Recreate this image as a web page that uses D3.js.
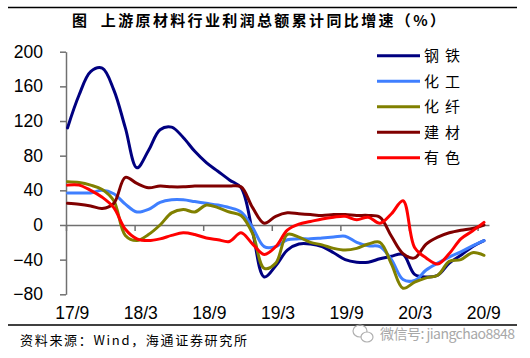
<!DOCTYPE html>
<html><head><meta charset="utf-8">
<script src="https://cdn.jsdelivr.net/npm/d3@7"></script>
<style>
html,body{margin:0;padding:0;background:#fff;}
svg{display:block;}
</style></head>
<body>
<svg id="chart" width="530" height="358"></svg>
<script>
// ---- data (monthly, 17/9 .. 20/9) ----
const months = ["17/9","17/10","17/11","17/12","18/1","18/2","18/3","18/4","18/5","18/6","18/7","18/8",
  "18/9","18/10","18/11","18/12","19/1","19/2","19/3","19/4","19/5","19/6","19/7","19/8",
  "19/9","19/10","19/11","19/12","20/1","20/2","20/3","20/4","20/5","20/6","20/7","20/8","20/9"];
const tickLabels = ["17/9","18/3","18/9","19/3","19/9","20/3","20/9"];
const yTicks = [-80,-40,0,40,80,120,160,200];
const seriesNames = ["钢铁","化工","化纤","建材","有色"];
const steel    = [112,150,177,181,156,112,66,86,110,113,101,85,72,62,52,43,-8,-60,-47,-29,-22,-22,-25,-32,-40,-43,-43,-39,-36,-34,-57,-60,-58,-44,-35,-25,-18];
const chemical = [37,37,37,40,36,24,15,18,26,29,29,27,25,23,20,15,-3,-25,-25,-17,-16,-16,-15,-14,-13,-20,-24,-25,-40,-63,-64,-52,-44,-37,-31,-24,-18];
const fiber    = [50,49,46,41,28,-12,-18,-11,0,14,18,15,23,20,15,11,-10,-50,-44,-11,-14,-20,-23,-27,-29,-27,-22,-20,-45,-73,-66,-61,-58,-42,-40,-32,-35];
const building = [25,24,22,19,25,55,48,43,45,44,44,45,45,45,45,44,20,2,10,14,13,12,11,12,12,11,11,9,-13,-33,-38,-22,-14,-9,-6,-4,0];
const nonferrous = [46,46,40,32,20,-5,-16,-18,-16,-12,-9,-11,-15,-17,-19,-9,-22,-34,-25,-6,1,4,7,9,10,6,9,2,13,28,-26,-38,-45,-33,-16,-7,3];
const seriesValues = [steel, chemical, fiber, building, nonferrous];
const colors = ["#000080","#3F7FFF","#808000","#800000","#FF0000"];

const svg = d3.select("#chart");

// frame lines
svg.append("line").attr("x1",8).attr("x2",517).attr("y1",7.5).attr("y2",7.5).attr("stroke","#000").attr("stroke-width",1.3);
svg.append("line").attr("x1",8).attr("x2",517).attr("y1",325).attr("y2",325).attr("stroke","#000").attr("stroke-width",1.3);

// title
svg.append("text").attr("x",72).attr("y",26).attr("textLength",373).attr("lengthAdjust","spacing")
  .attr("font-family","'Noto Sans CJK SC', sans-serif").attr("font-weight","bold").attr("font-size",15)
  .attr("fill","#000").text("图\u00a0\u00a0上游原材料行业利润总额累计同比增速（%）");

// scales
const y = d3.scaleLinear().domain([-80,200]).range([294.3,51.7]);
const xAxisScale = d3.scaleLinear().domain([-0.5,36.5]).range([66,489]);
const xData = d3.scaleLinear().domain([0,36]).range([67.5,484]);

// y axis
const yAxis = svg.append("g").attr("transform","translate(66,0)")
  .call(d3.axisLeft(y).tickValues(yTicks).tickSize(6).tickSizeOuter(0).tickPadding(17).tickFormat(d3.format("d")));
yAxis.select(".domain").attr("stroke","#707070").attr("stroke-width",1.5);
yAxis.selectAll(".tick line").attr("stroke","#707070").attr("stroke-width",1.5);
yAxis.selectAll("text").attr("font-family","'Liberation Sans', Arial, sans-serif").attr("font-size",17.5).attr("fill","#000");

// x axis (zero line with tick marks between categories)
const tickPos = d3.range(-0.5, 36, 6);
const xAxis = svg.append("g").attr("transform",`translate(0,${y(0)})`)
  .call(d3.axisBottom(xAxisScale).tickValues(tickPos).tickSize(6).tickSizeOuter(0).tickFormat(""));
xAxis.select(".domain").attr("stroke","#707070").attr("stroke-width",1.5);
xAxis.selectAll(".tick line").attr("stroke","#707070").attr("stroke-width",1.5);

// x labels at category centres
const labelIdx = tickLabels.map(l => months.indexOf(l));
const xLab = svg.append("g").attr("transform","translate(0,307)")
  .call(d3.axisBottom(xAxisScale).tickValues(labelIdx).tickSize(0).tickPadding(0)
    .tickFormat(d => months[d]));
xLab.select(".domain").remove();
xLab.selectAll("text").attr("font-family","'Liberation Sans', Arial, sans-serif").attr("font-size",17.5).attr("fill","#000");

// lines
const line = d3.line().x((d,i)=>xData(i)).y(d=>y(d)).curve(d3.curveCatmullRom.alpha(0.5));
seriesValues.forEach((vals,k)=>{
  svg.append("path").datum(vals).attr("d",line).attr("fill","none")
    .attr("stroke",colors[k]).attr("stroke-width",3).attr("stroke-linejoin","round").attr("stroke-linecap","round");
});

// legend
const lg = svg.append("g");
seriesNames.forEach((n,k)=>{
  const yy = 55.7 + k*25.5;
  lg.append("line").attr("x1",377).attr("x2",420).attr("y1",yy).attr("y2",yy)
    .attr("stroke",colors[k]).attr("stroke-width",3);
  lg.append("text").attr("x",424).attr("y",yy+5.5).attr("font-family","'Noto Sans CJK SC', sans-serif")
    .attr("font-size",15).attr("letter-spacing",6).attr("fill","#000").text(n);
});

// source
svg.append("text").attr("x",20).attr("y",345).attr("textLength",227).attr("lengthAdjust","spacing")
  .attr("font-family","'Noto Sans CJK SC', sans-serif").attr("font-size",13).attr("fill","#000")
  .text("资料来源：Wind，海通证券研究所");

// watermark
const wm = svg.append("g").attr("fill","none").attr("stroke","#b0b0b0").attr("stroke-width",1.2);
wm.append("ellipse").attr("cx",360).attr("cy",331).attr("rx",7).attr("ry",6);
wm.append("ellipse").attr("cx",367).attr("cy",337).attr("rx",6).attr("ry",5).attr("fill","#fff");
svg.append("text").attr("x",380).attr("y",339).attr("textLength",135).attr("lengthAdjust","spacing")
  .attr("font-family","'Noto Sans CJK SC', sans-serif").attr("font-size",14).attr("fill","#a8a8a8")
  .text("微信号: jiangchao8848");
</script>
</body></html>
